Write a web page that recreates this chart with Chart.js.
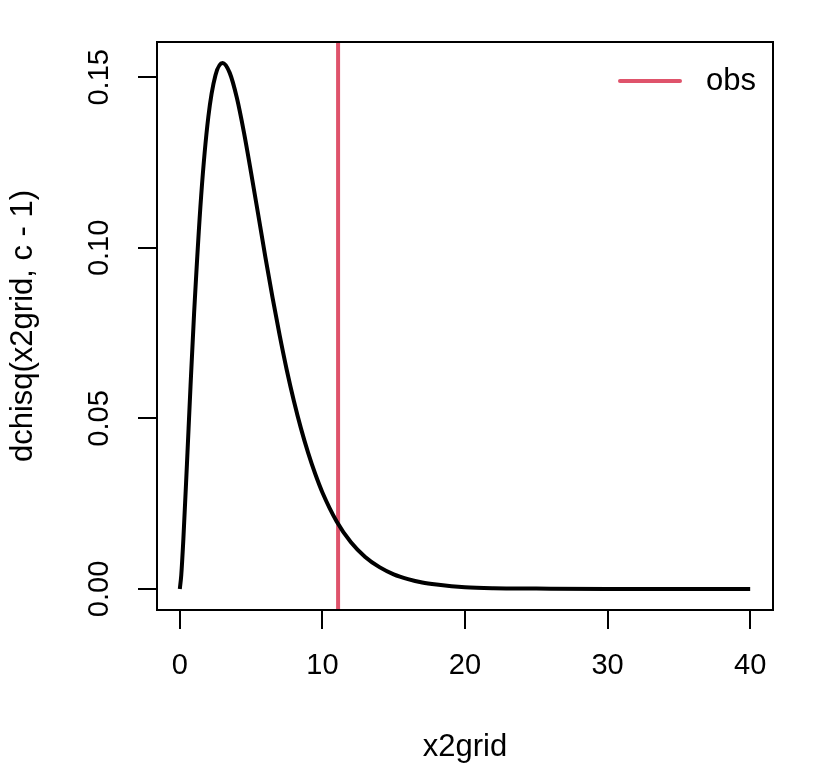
<!DOCTYPE html>
<html>
<head>
<meta charset="utf-8">
<script src="https://cdn.jsdelivr.net/npm/chart.js@4"></script>
<style>
  html, body { margin: 0; padding: 0; background: #ffffff; }
  #wrap { width: 816px; height: 768px; position: relative; }
</style>
</head>
<body>
<div id="wrap"><canvas id="c"></canvas></div>
<script>
// ---- data ----
const xGrid = [0, 0.1, 0.25, 0.5, 0.75, 1, 1.5, 2, 2.5, 3, 3.5, 4, 4.5, 5, 5.5, 6, 6.5, 7, 7.5, 8, 8.5, 9, 9.5, 10, 11, 12, 13, 14, 15, 16, 17, 18, 20, 22, 25, 30, 35, 40];
const density = [0, 0.0040, 0.0147, 0.0366, 0.0594, 0.0807, 0.1154, 0.1384, 0.1506, 0.1542, 0.1513, 0.1440, 0.1338, 0.1220, 0.1097, 0.0973, 0.0855, 0.0744, 0.0642, 0.0551, 0.0470, 0.0399, 0.0337, 0.0283, 0.0198, 0.0137, 0.0094, 0.0064, 0.0043, 0.0029, 0.0019, 0.0013, 0.0005, 0.0002, 0.0001, 0, 0, 0];
const obsValue = 11.1;
const xTicks = [0, 10, 20, 30, 40];
const yTicks = [0.00, 0.05, 0.10, 0.15];
const yTickLabels = ["0.00", "0.05", "0.10", "0.15"];
const xTitle = "x2grid";
const yTitle = "dchisq(x2grid, c - 1)";
const legendLabel = "obs";

const FONT = "'Liberation Sans', Arial, Helvetica, sans-serif";
const RED = "#DF536B";

const curvePoints = xGrid.map((x, i) => ({ x: x, y: density[i] }));
const obsPoints = [{ x: obsValue, y: -1 }, { x: obsValue, y: 1 }];

const boxPlugin = {
  id: 'boxPlugin',
  afterDraw(chart) {
    const ctx = chart.ctx;
    const a = chart.chartArea;
    ctx.save();
    ctx.strokeStyle = '#000';
    ctx.lineWidth = 2;
    ctx.strokeRect(a.left, a.top, a.right - a.left, a.bottom - a.top);
    // legend (top-right, no box)
    const ds = chart.data.datasets[1];
    const ly = a.top + 39;
    const lx2 = a.right - 93;
    ctx.strokeStyle = ds.borderColor;
    ctx.lineWidth = 4;
    ctx.lineCap = 'round';
    ctx.beginPath();
    ctx.moveTo(lx2 - 60, ly);
    ctx.lineTo(lx2, ly);
    ctx.stroke();
    ctx.fillStyle = '#000';
    ctx.font = '31px ' + FONT;
    ctx.textBaseline = 'middle';
    ctx.textAlign = 'left';
    ctx.fillText(ds.label, lx2 + 26, ly);
    ctx.restore();
  }
};

new Chart(document.getElementById('c'), {
  type: 'line',
  data: {
    datasets: [
      {
        label: 'density',
        data: curvePoints,
        borderColor: '#000000',
        borderWidth: 4,
        pointRadius: 0,
        fill: false,
        cubicInterpolationMode: 'monotone'
      },
      {
        label: legendLabel,
        data: obsPoints,
        borderColor: RED,
        borderWidth: 4,
        pointRadius: 0,
        fill: false
      }
    ]
  },
  options: {
    responsive: true,
    maintainAspectRatio: false,
    animation: false,
    devicePixelRatio: 1,
    layout: { padding: { top: 42, right: 43, left: 0, bottom: 0 } },
    plugins: { legend: { display: false }, tooltip: { enabled: false } },
    scales: {
      x: {
        type: 'linear',
        min: -1.6,
        max: 41.6,
        afterBuildTicks(scale) { scale.ticks = xTicks.map(v => ({ value: v })); },
        afterFit(scale) { scale.height = 158; },
        grid: { display: true, drawOnChartArea: false, drawTicks: true, tickLength: 19, color: '#000', lineWidth: 2 },
        border: { display: false },
        ticks: { color: '#000', font: { size: 29, family: FONT }, padding: 20, maxRotation: 0, autoSkip: false,
                 callback: (v) => String(v) },
        title: { display: true, text: xTitle, color: '#000', font: { size: 31, family: FONT }, padding: { top: 0, bottom: 2 } }
      },
      y: {
        type: 'linear',
        min: -0.00617,
        max: 0.16035,
        afterBuildTicks(scale) { scale.ticks = yTicks.map(v => ({ value: v })); },
        afterFit(scale) { scale.width = 157; },
        grid: { display: true, drawOnChartArea: false, drawTicks: true, tickLength: 19, color: '#000', lineWidth: 2 },
        border: { display: false },
        ticks: { color: '#000', font: { size: 29, family: FONT }, padding: 10, minRotation: 90, maxRotation: 90,
                 crossAlign: 'center', autoSkip: false,
                 callback: (v) => { const i = yTicks.indexOf(v); return i >= 0 ? yTickLabels[i] : ''; } },
        title: { display: true, text: yTitle, color: '#000', font: { size: 31, family: FONT }, padding: { top: 5, bottom: 0 } }
      }
    }
  },
  plugins: [boxPlugin]
});
</script>
</body>
</html>
